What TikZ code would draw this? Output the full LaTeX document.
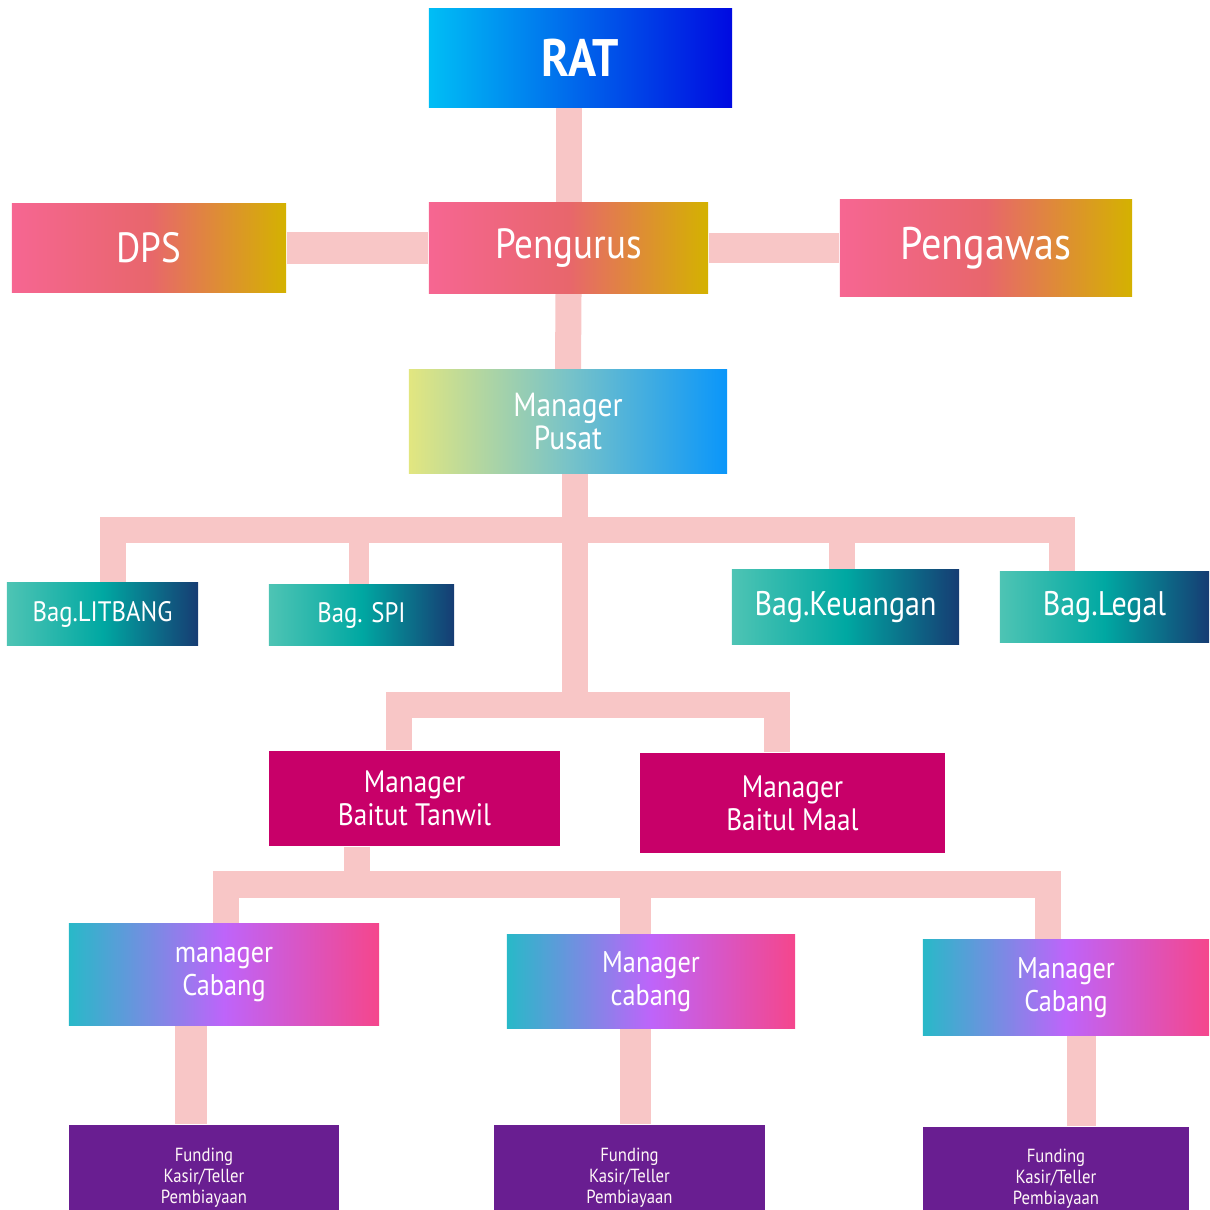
\documentclass[tikz,border=0pt]{standalone}
\usepackage{fontspec}
\setmainfont[FakeStretch=0.88]{PT Sans}
\usepackage{tikz}
\usetikzlibrary{positioning,backgrounds}

\definecolor{ratleft}{RGB}{0,190,245}
\definecolor{ratright}{RGB}{0,10,225}
\definecolor{penleft}{RGB}{246,102,146}
\definecolor{penmid}{RGB}{232,102,108}
\definecolor{penright}{RGB}{212,178,0}
\definecolor{pusleft}{RGB}{226,230,128}
\definecolor{pusmid}{RGB}{120,195,200}
\definecolor{pusright}{RGB}{10,150,250}
\definecolor{bagleft}{RGB}{78,196,180}
\definecolor{bagmid}{RGB}{0,168,162}
\definecolor{bagright}{RGB}{22,60,115}
\definecolor{baitfill}{RGB}{200,0,105}
\definecolor{cableft}{RGB}{40,185,200}
\definecolor{cabmid}{RGB}{190,100,250}
\definecolor{cabright}{RGB}{245,70,140}
\definecolor{fundfill}{RGB}{105,30,145}
\definecolor{linkpink}{RGB}{248,198,198}

\tikzset{
  box/.style={inner sep=0pt, align=center, text=white},
  ratbox/.style={box, left color=ratleft, right color=ratright,
    font=\bfseries\fontsize{15}{17}\selectfont},
  penbox/.style={box, left color=penleft, right color=penright, middle color=penmid,
    font=\fontsize{12}{14}\selectfont},
  pusbox/.style={box, left color=pusleft, right color=pusright, middle color=pusmid,
    font=\fontsize{9.5}{9.6}\selectfont},
  bagbox/.style={box, left color=bagleft, right color=bagright, middle color=bagmid},
  baitbox/.style={box, fill=baitfill, font=\fontsize{8.8}{9.4}\selectfont},
  cabbox/.style={box, left color=cableft, right color=cabright, middle color=cabmid,
    font=\fontsize{8.5}{9.4}\selectfont},
  fundbox/.style={box, fill=fundfill, text=white!88!pink,
    font=\fontsize{5.4}{6}\selectfont},
  conn/.style={draw=linkpink, line width=2.6mm, line join=miter},
}

\begin{document}
\begin{tikzpicture}[x=0.01cm, y=-0.01cm]
  \useasboundingbox (0,0) rectangle (1209,1210);
  \clip (0,0) rectangle (1209,1210);

  % top level
  \node[ratbox, minimum width=3.03cm, minimum height=0.98cm] (rat) at (580.5,58) {RAT};
  \node[penbox, minimum width=2.74cm, minimum height=0.88cm] (dps) at (149,248) {DPS};
  \node[penbox, minimum width=2.79cm, minimum height=0.90cm] (pengurus) at (568.5,248) {Pengurus};
  \node[penbox, minimum width=2.92cm, minimum height=0.96cm, font=\fontsize{13}{15}\selectfont] (pengawas) at (986,248) {Pengawas};
  \node[pusbox, minimum width=3.18cm, minimum height=1.03cm] (pusat) at (568,421.5) {Manager\\Pusat};

  % bagian
  \node[bagbox, minimum width=1.91cm, minimum height=0.62cm, font=\fontsize{8}{10}\selectfont] (litbang) at (102.5,614) {Bag.LITBANG};
  \node[bagbox, minimum width=1.85cm, minimum height=0.60cm, font=\fontsize{8}{10}\selectfont] (spi) at (361.5,615) {Bag. SPI};
  \node[bagbox, minimum width=2.27cm, minimum height=0.74cm, font=\fontsize{9.7}{12}\selectfont] (keuangan) at (845.5,607) {Bag.Keuangan};
  \node[bagbox, minimum width=2.09cm, minimum height=0.70cm, font=\fontsize{9.7}{12}\selectfont] (legal) at (1104.5,607) {Bag.Legal};

  % baitut tanwil / baitul maal
  \node[baitbox, minimum width=2.91cm, minimum height=0.95cm] (tanwil) at (414.5,798.5) {Manager\\Baitut Tanwil};
  \node[baitbox, minimum width=3.05cm, minimum height=1.00cm] (maal) at (792.5,803) {Manager\\Baitul Maal};

  % cabang
  \node[cabbox, minimum width=3.10cm, minimum height=1.01cm] (cabang1) at (224,974.5) {manager\\Cabang};
  \node[cabbox, minimum width=2.88cm, minimum height=0.93cm] (cabang2) at (651,981.5) {Manager\\cabang};
  \node[cabbox, minimum width=2.86cm, minimum height=0.95cm] (cabang3) at (1066,987.5) {Manager\\Cabang};

  % funding
  \node[fundbox, minimum width=2.70cm, minimum height=1.05cm] (fund1) at (204,1177.5) {Funding\\Kasir/Teller\\Pembiayaan};
  \node[fundbox, minimum width=2.71cm, minimum height=1.05cm] (fund2) at (629.5,1177.5) {Funding\\Kasir/Teller\\Pembiayaan};
  \node[fundbox, minimum width=2.66cm, minimum height=1.03cm] (fund3) at (1056,1178.5) {Funding\\Kasir/Teller\\Pembiayaan};

  % junctions
  \coordinate (hub1) at (575,530);
  \coordinate (hub2) at (575,705);
  \coordinate (d1) at (113,530);
  \coordinate (d2) at (358.5,530);
  \coordinate (d3) at (842,530);
  \coordinate (d4) at (1061.5,530);
  \coordinate (e1) at (399,705);
  \coordinate (e2) at (777,705);
  \coordinate (hub3) at (356.5,884.5);
  \coordinate (f1) at (226,884.5);
  \coordinate (f2) at (635,884.5);
  \coordinate (f3) at (1048,884.5);
  \coordinate (g1) at (191,1075);
  \coordinate (g3) at (1081.5,1080);

  \begin{scope}[on background layer]
    \draw [conn] (rat.south -| pengurus.north) to (pengurus.north);
    \draw [conn, line width=3.2mm] (dps) to (pengurus);
    \draw [conn, line width=2.9mm] (pengurus.east) to (pengawas.west);
    \draw [conn] (pengurus.south) to (pusat.north);

    \draw [conn] (pusat.south -| hub1) to (hub2);
    \draw [conn] (d1 |- litbang.north) -- (d1) -- (d4) -- (d4 |- legal.north);
    \draw [conn, line width=2mm] (d2) to (d2 |- spi.north);
    \draw [conn] (d3) to (d3 |- keuangan.north);

    \draw [conn] (e1 |- tanwil.north) -- (e1) -- (e2) -- (e2 |- maal.north);

    \draw [conn] (tanwil.south -| hub3) to (hub3);
    \draw [conn] (f1 |- cabang1.north) -- (f1) -- (f3) -- (f3 |- cabang3.north);
    \draw [conn, line width=3.1mm] (f2) to (f2 |- cabang2.north);

    \draw [conn, line width=3.1mm] (cabang1.south -| g1) to (fund1.north -| g1);
    \draw [conn, line width=3.1mm] (cabang2.south -| f2) to (fund2.north -| f2);
    \draw [conn, line width=2.9mm] (cabang3.south -| g3) to (fund3.north -| g3);
  \end{scope}
\end{tikzpicture}
\end{document}
